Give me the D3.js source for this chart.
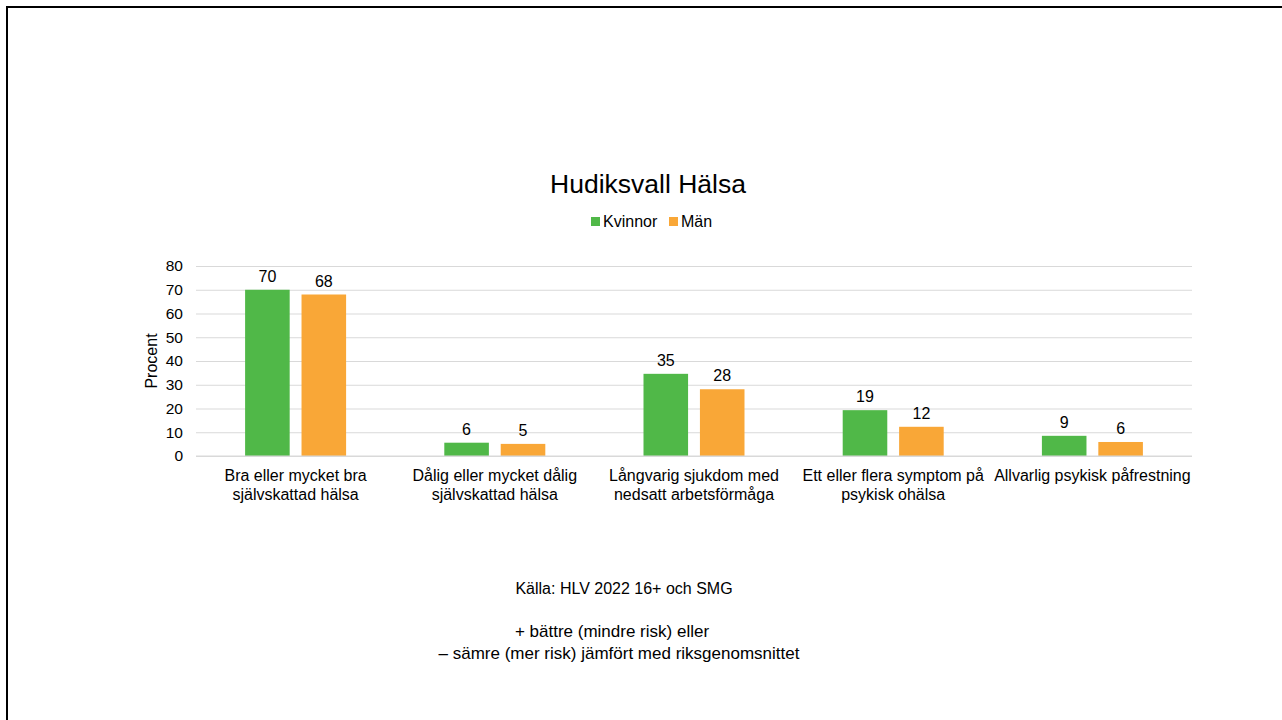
<!DOCTYPE html>
<html>
<head>
<meta charset="utf-8">
<script src="https://cdn.jsdelivr.net/npm/d3@7"></script>
<style>
  body { margin: 0; background: #fff; }
  svg { display: block; font-family: "Liberation Sans", Arial, sans-serif; }
</style>
</head>
<body>
<script>
const width  = 1282
const height = 720

// data
const categories = [
  ["Bra eller mycket bra", "självskattad hälsa"],
  ["Dålig eller mycket dålig", "självskattad hälsa"],
  ["Långvarig sjukdom med", "nedsatt arbetsförmåga"],
  ["Ett eller flera symptom på", "psykisk ohälsa"],
  ["Allvarlig psykisk påfrestning"]
];
const series = ["Kvinnor", "Män"];
const kvinnor = [70, 5.6, 34.6, 19.3, 8.5];
const man     = [68, 5.1, 28.1, 12.3, 5.9];
const yTicks  = [0, 10, 20, 30, 40, 50, 60, 70, 80];
const colours = ["#50b848", "#f9a737"];

const margin = {top: 266, right: 90, bottom: 264, left: 196};

const rows = categories.map((c, i) => ({key: i, label: c, values: [kvinnor[i], man[i]]}));

const svg = d3.select("body").append("svg")
	.attr("width", width)
	.attr("height", height);

// frame
svg.append("rect")
	.attr("x", 7).attr("y", 7)
	.attr("width", width + 20).attr("height", height + 20)
	.attr("fill", "none")
	.attr("stroke", "#000")
	.attr("stroke-width", 2);

const x0 = d3.scaleBand()
	.domain(rows.map(d => d.key))
	.range([margin.left, width - margin.right]);

const bw = x0.bandwidth();
const x1 = d3.scaleBand()
	.domain(series)
	.range([bw / 2 - 50.5, bw / 2 + 50.5])
	.paddingInner(0.21);

const y = d3.scaleLinear()
	.domain([0, 80])
	.range([height - margin.bottom, margin.top]);

// gridlines + y labels
svg.append("g")
	.attr("transform", `translate(${margin.left},0)`)
	.call(d3.axisLeft(y).tickValues(yTicks).tickSize(-(width - margin.left - margin.right)).tickPadding(13))
	.call(g => g.select(".domain").remove())
	.call(g => g.selectAll("line").attr("stroke", "#d9d9d9"))
	.call(g => g.selectAll("text")
		.attr("fill", "#000")
		.attr("font-size", 15.5)
		.attr("font-family", "Liberation Sans, Arial, sans-serif"));

// y title
svg.append("text")
	.attr("transform", `translate(157,${(y(0) + y(80)) / 2}) rotate(-90)`)
	.attr("text-anchor", "middle")
	.attr("font-size", 16)
	.text("Procent");

//draw bars
const groups = svg.append("g")
	.selectAll("g")
	.data(rows)
	.join("g")
	.attr("transform", d => `translate(${x0(d.key)},0)`);

groups.selectAll("rect")
	.data(d => d.values.map((v, i) => ({s: series[i], v: v, i: i})))
	.join("rect")
	.attr("x", d => x1(d.s))
	.attr("y", d => y(d.v))
	.attr("width", x1.bandwidth())
	.attr("height", d => y(0) - y(d.v))
	.attr("fill", d => colours[d.i]);

groups.selectAll("text.val")
	.data(d => d.values.map((v, i) => ({s: series[i], v: v})))
	.join("text")
	.attr("class", "val")
	.attr("x", d => x1(d.s) + x1.bandwidth() / 2)
	.attr("y", d => y(d.v) - 8)
	.attr("text-anchor", "middle")
	.attr("font-size", 16)
	.text(d => d3.format(".0f")(d.v));

// x axis line
svg.append("line")
	.attr("x1", margin.left).attr("x2", width - margin.right)
	.attr("y1", y(0)).attr("y2", y(0))
	.attr("stroke", "#d9d9d9");

// category labels
svg.append("g")
	.selectAll("text")
	.data(rows)
	.join("text")
	.attr("x", d => x0(d.key) + bw / 2)
	.attr("y", 481)
	.attr("text-anchor", "middle")
	.attr("font-size", 16)
	.selectAll("tspan")
	.data(d => d.label)
	.join("tspan")
	.attr("x", function() { return this.parentNode.getAttribute("x"); })
	.attr("dy", (d, i) => i === 0 ? 0 : 19)
	.text(d => d);

// title
svg.append("text")
	.attr("x", 648).attr("y", 193)
	.attr("text-anchor", "middle")
	.attr("font-size", 26.5)
	.text("Hudiksvall Hälsa");

// legend
const legend = svg.append("g")
	.attr("transform", "translate(591,217)");
const legendX = [0, 78];
legend.selectAll("rect")
	.data(series)
	.join("rect")
	.attr("x", (d, i) => legendX[i])
	.attr("y", 0)
	.attr("width", 9).attr("height", 9)
	.attr("fill", (d, i) => colours[i]);
legend.selectAll("text")
	.data(series)
	.join("text")
	.attr("x", (d, i) => legendX[i] + 12)
	.attr("y", 10)
	.attr("font-size", 16)
	.text(d => d);

// footer notes
const notes = [
	{t: "Källa: HLV 2022 16+ och SMG", x: 624, y: 594, s: 16},
	{t: "+ bättre (mindre risk) eller", x: 612, y: 637, s: 17},
	{t: "– sämre (mer risk) jämfört med riksgenomsnittet", x: 619, y: 659, s: 17}
];
svg.append("g")
	.selectAll("text")
	.data(notes)
	.join("text")
	.attr("x", d => d.x)
	.attr("y", d => d.y)
	.attr("text-anchor", "middle")
	.attr("font-size", d => d.s)
	.text(d => d.t);
</script>
</body>
</html>
